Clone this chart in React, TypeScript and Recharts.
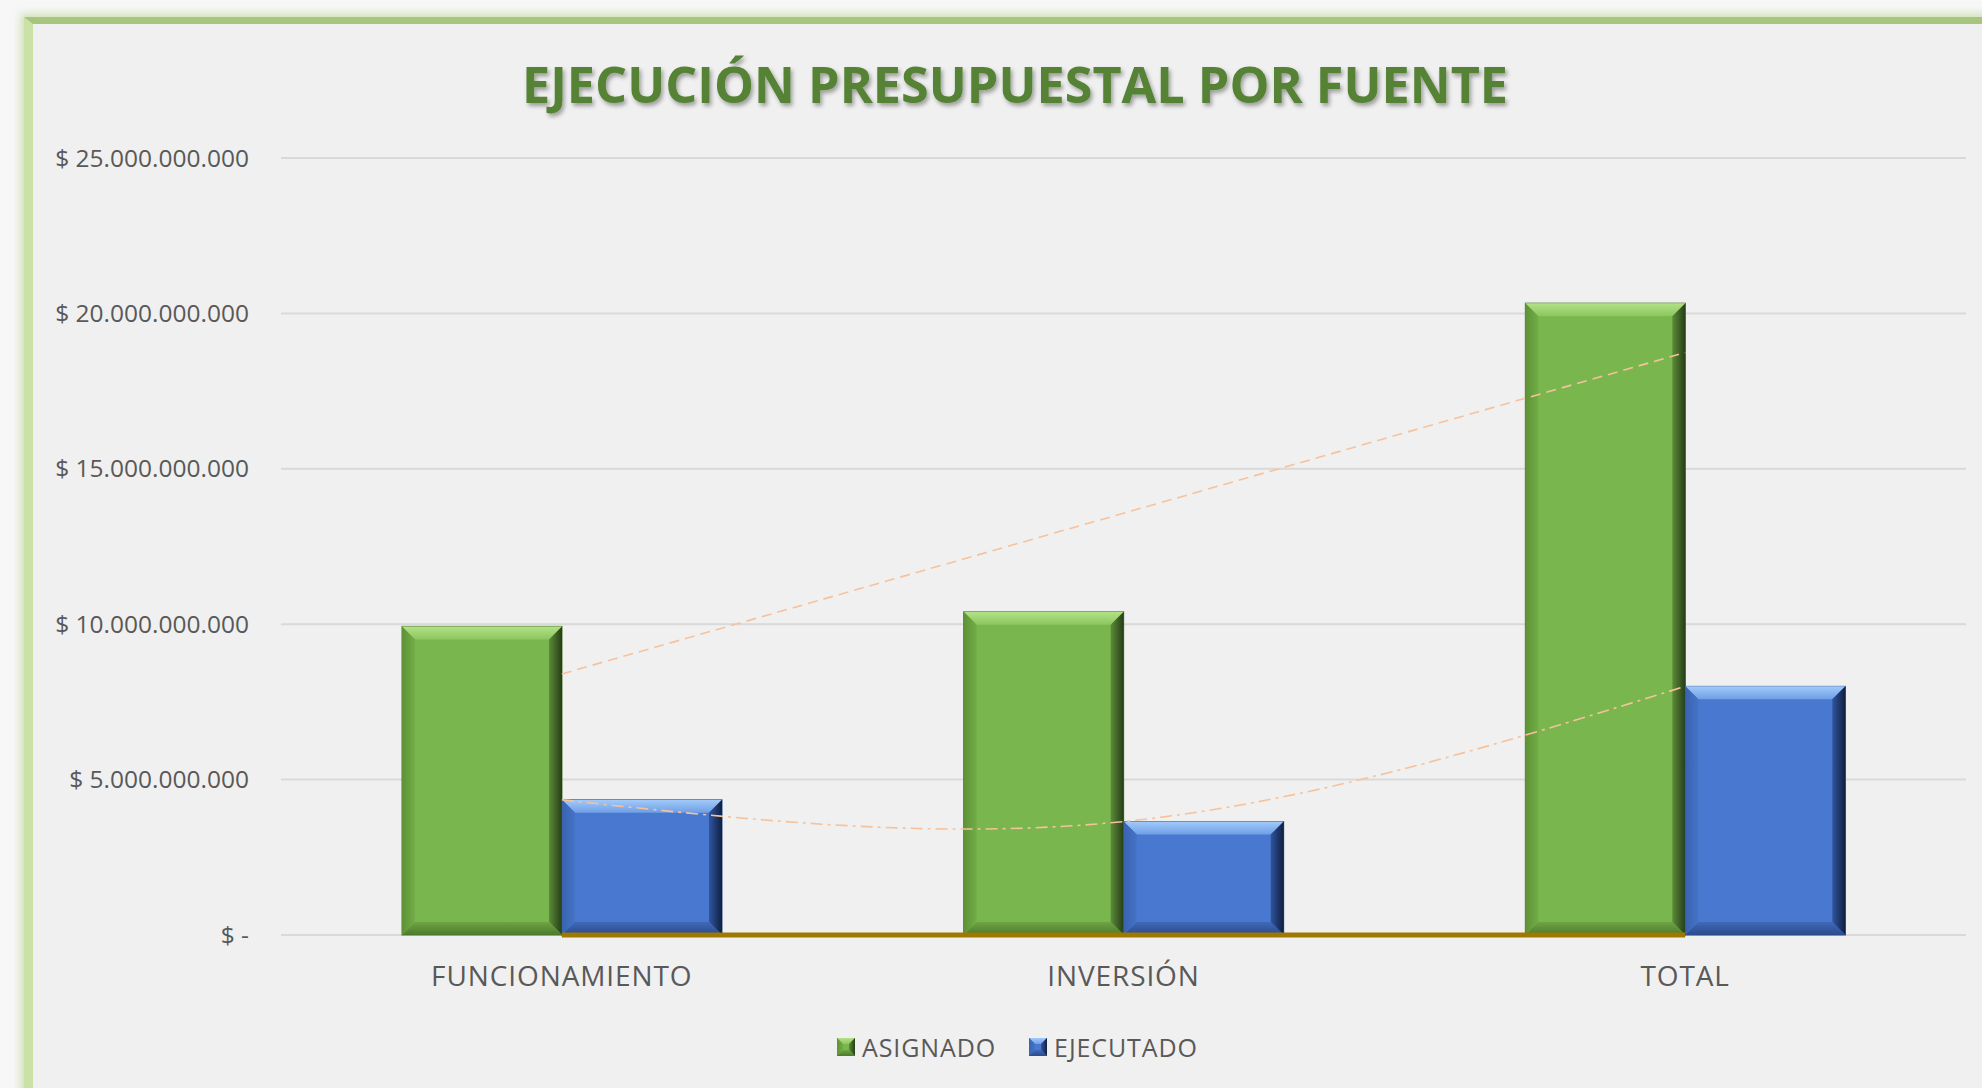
import React from 'react';
import {
  ComposedChart, Bar, Line, XAxis, YAxis, CartesianGrid,
} from 'recharts';

const categorias = ['FUNCIONAMIENTO', 'INVERSIÓN', 'TOTAL'];
const asignado = [9930000000, 10400000000, 20330000000];
const ejecutado = [4350000000, 3650000000, 8000000000];
// linea de tendencia lineal de ASIGNADO
const tendenciaAsignado = [8400000000, 13570000000, 18740000000];
const lineaBase = [0, 0, 0];
const yTicks = [0, 5000000000, 10000000000, 15000000000, 20000000000, 25000000000];

const data = categorias.map((c, i) => ({
  categoria: c,
  ASIGNADO: asignado[i],
  EJECUTADO: ejecutado[i],
  tendAsignado: tendenciaAsignado[i],
  base: lineaBase[i],
}));

const FONT = '"Open Sans", "Noto Sans", sans-serif';

const PALETTE: Record<string, any> = {
  green: {
    main: '#7AB64E', top: ['#B2E287', '#8CC660'], left: ['#5D9236', '#72AD47'],
    right: ['#5B8C39', '#263D16'], bottom: ['#6FA445', '#4C7A2C'], edge: '#4E7A2E',
  },
  blue: {
    main: '#4878CF', top: ['#A2CBFA', '#6E9EE6'], left: ['#3A63B0', '#4473C6'],
    right: ['#30559E', '#101F40'], bottom: ['#3F69B8', '#2B4B8C'], edge: '#2A4A88',
  },
};

const formatPeso = (v: number) => {
  if (v === 0) return '$ -';
  return '$ ' + String(v).replace(/\B(?=(\d{3})+(?!\d))/g, '.');
};

const Gradients = () => (
  <defs>
    {Object.keys(PALETTE).map((k) => {
      const p = PALETTE[k];
      return (
        <React.Fragment key={k}>
          <linearGradient id={`${k}-top`} x1="0" y1="0" x2="0" y2="1">
            <stop offset="0%" stopColor={p.top[0]} />
            <stop offset="100%" stopColor={p.top[1]} />
          </linearGradient>
          <linearGradient id={`${k}-left`} x1="0" y1="0" x2="1" y2="0">
            <stop offset="0%" stopColor={p.left[0]} />
            <stop offset="100%" stopColor={p.left[1]} />
          </linearGradient>
          <linearGradient id={`${k}-right`} x1="0" y1="0" x2="1" y2="0">
            <stop offset="0%" stopColor={p.right[0]} />
            <stop offset="100%" stopColor={p.right[1]} />
          </linearGradient>
          <linearGradient id={`${k}-bottom`} x1="0" y1="0" x2="0" y2="1">
            <stop offset="0%" stopColor={p.bottom[0]} />
            <stop offset="100%" stopColor={p.bottom[1]} />
          </linearGradient>
        </React.Fragment>
      );
    })}
  </defs>
);

const BevelRect = ({ x, y, width: w, height: h, k, b = 13 }: any) => {
  if (!w || !h || h <= 0) return null;
  const p = PALETTE[k];
  const bb = Math.min(b, w / 2, h / 2);
  return (
    <g>
      <rect x={x} y={y} width={w} height={h} fill={p.main} stroke={p.edge} strokeWidth={1} />
      <polygon points={`${x},${y} ${x + w},${y} ${x + w - bb},${y + bb} ${x + bb},${y + bb}`} fill={`url(#${k}-top)`} />
      <polygon points={`${x},${y} ${x + bb},${y + bb} ${x + bb},${y + h - bb} ${x},${y + h}`} fill={`url(#${k}-left)`} />
      <polygon points={`${x + w},${y} ${x + w},${y + h} ${x + w - bb},${y + h - bb} ${x + w - bb},${y + bb}`} fill={`url(#${k}-right)`} />
      <polygon points={`${x},${y + h} ${x + bb},${y + h - bb} ${x + w - bb},${y + h - bb} ${x + w},${y + h}`} fill={`url(#${k}-bottom)`} />
    </g>
  );
};

const LegendItem = ({ k, label }: { k: string; label: string }) => (
  <div style={{ display: 'flex', alignItems: 'center', gap: 7 }}>
    <svg width={18} height={18}>
      <Gradients />
      <BevelRect x={0} y={0} width={18} height={18} k={k} b={6} />
    </svg>
    <span style={{ fontFamily: FONT, fontSize: 25, color: '#595959', letterSpacing: 0.9 }}>{label}</span>
  </div>
);

export default function App() {
  return (
    <div style={{ position: 'absolute', left: 0, top: 0, width: 1982, height: 1088, overflow: 'hidden', background: '#F7F7F7' }}>
      {/* marco */}
      <div
        style={{
          position: 'absolute', left: 24, top: 17, width: 2000, height: 1200,
          background: '#F0F0F0', borderTop: '7px solid #A7C57F', borderLeft: '9px solid #CBE2A6',
          boxShadow: '0 0 8px 3px rgba(170,205,120,0.55)',
        }}
      />
      {/* titulo */}
      <svg style={{ position: 'absolute', left: 0, top: 0 }} width={1982} height={140}>
        <defs>
          <filter id="sombra" x="-5%" y="-30%" width="110%" height="160%">
            <feDropShadow dx="2" dy="3" stdDeviation="2" floodColor="#000" floodOpacity="0.35" />
          </filter>
        </defs>
        <text
          x={522} y={103} textLength={986} lengthAdjust="spacingAndGlyphs"
          fontFamily={FONT} fontWeight={700} fontSize={50} fill="#548235" filter="url(#sombra)"
        >
          EJECUCIÓN PRESUPUESTAL POR FUENTE
        </text>
      </svg>
      <div style={{ position: 'absolute', left: 0, top: 0 }}>
        <ComposedChart
          width={1982}
          height={1088}
          data={data}
          margin={{ top: 158, right: 16, bottom: 0, left: 0 }}
          barGap={0}
        >
          <Gradients />
          <CartesianGrid vertical={false} stroke="#D9D9D9" strokeWidth={2} />
          <XAxis
            dataKey="categoria"
            height={153}
            axisLine={false}
            tickLine={false}
            tickSize={0}
            tickMargin={31}
            tick={{ fill: '#595959', fontSize: 28, fontFamily: FONT, letterSpacing: 0.9 }}
          />
          <YAxis
            width={281}
            domain={[0, 25000000000]}
            ticks={yTicks}
            axisLine={false}
            tickLine={false}
            tickSize={0}
            tickMargin={32}
            tickFormatter={formatPeso}
            tick={{ fill: '#595959', fontSize: 24.5, fontFamily: FONT }}
          />
          <Bar
            dataKey="ASIGNADO"
            barSize={160}
            fill={PALETTE.green.main}
            isAnimationActive={false}
            shape={(props: any) => <BevelRect {...props} k="green" />}
          />
          <Bar
            dataKey="EJECUTADO"
            barSize={160}
            fill={PALETTE.blue.main}
            isAnimationActive={false}
            shape={(props: any) => <BevelRect {...props} k="blue" />}
          />
          <Line
            dataKey="base"
            type="linear"
            stroke="#9E7800"
            strokeWidth={5}
            dot={false}
            activeDot={false}
            legendType="none"
            isAnimationActive={false}
          />
          <Line
            dataKey="tendAsignado"
            name="Lineal (ASIGNADO)"
            type="linear"
            stroke="#F6C29C"
            strokeWidth={1.6}
            strokeDasharray="10 6"
            dot={false}
            activeDot={false}
            legendType="none"
            isAnimationActive={false}
          />
          <Line
            dataKey="EJECUTADO"
            name="Polinómica (EJECUTADO)"
            type="natural"
            stroke="#F6C29C"
            strokeWidth={1.6}
            strokeDasharray="12 5 3 5"
            dot={false}
            activeDot={false}
            legendType="none"
            isAnimationActive={false}
          />
        </ComposedChart>
      </div>
      {/* leyenda */}
      <div
        style={{
          position: 'absolute', left: 837, top: 1030, display: 'flex', gap: 33, alignItems: 'center',
        }}
      >
        <LegendItem k="green" label="ASIGNADO" />
        <LegendItem k="blue" label="EJECUTADO" />
      </div>
    </div>
  );
}
